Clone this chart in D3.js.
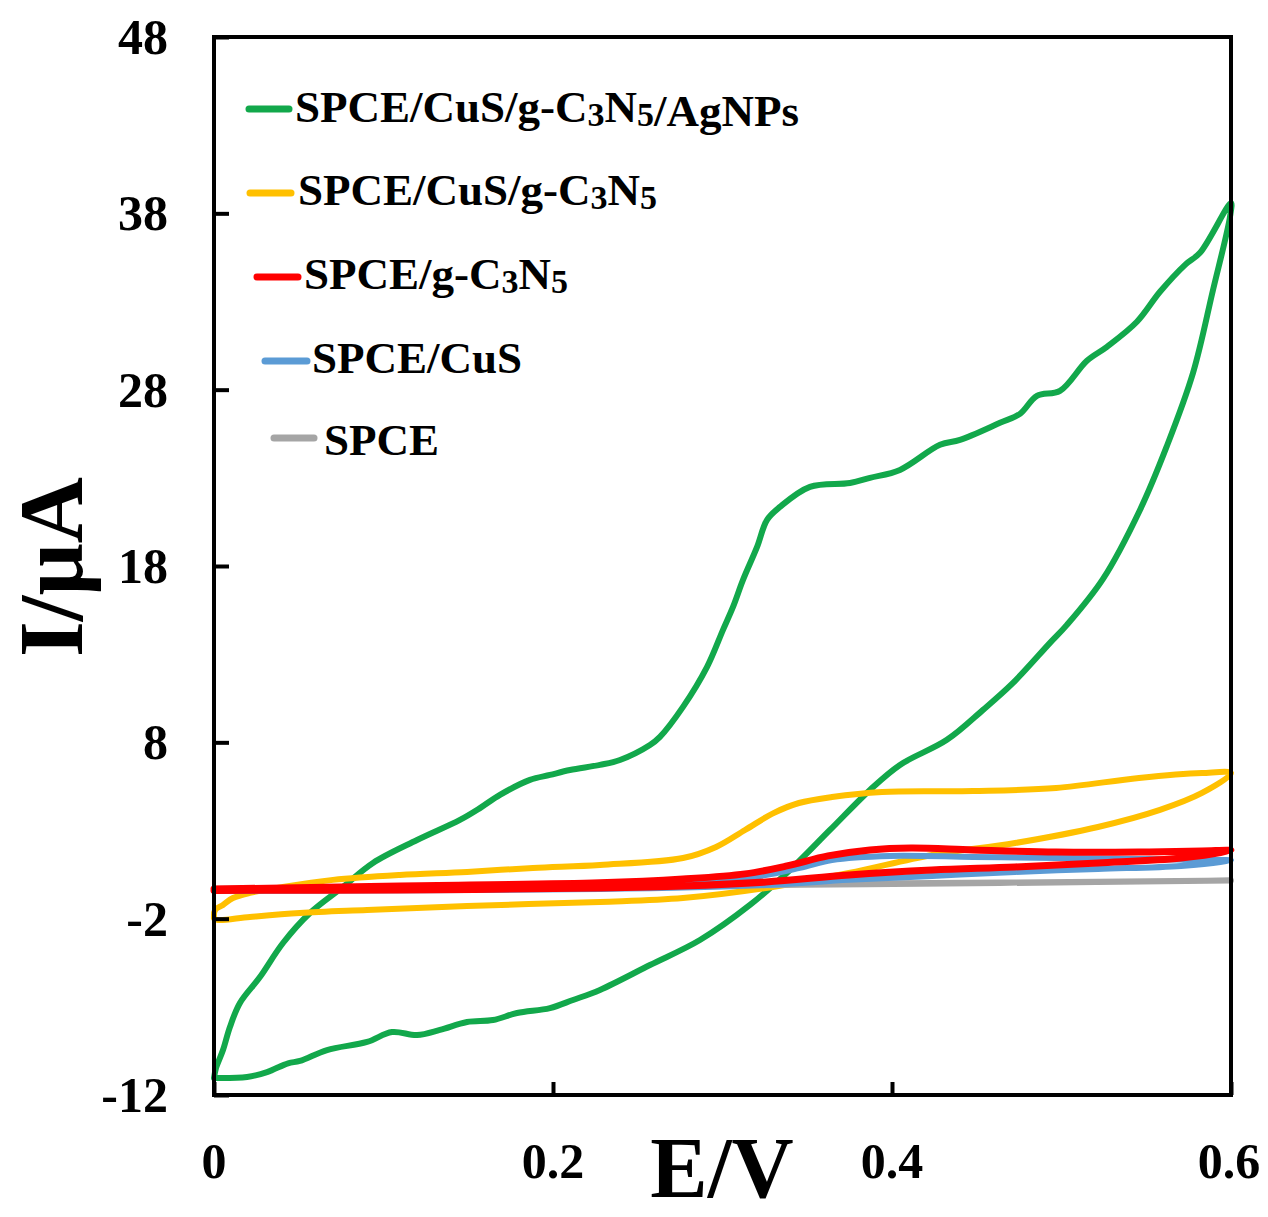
<!DOCTYPE html>
<html>
<head>
<meta charset="utf-8">
<script src="https://cdn.jsdelivr.net/npm/d3@7"></script>
<style>
  html, body { margin: 0; padding: 0; background: #fff; }
  svg { display: block; }
  text { font-family: "Liberation Serif", "Times New Roman", serif; font-weight: bold; fill: #000; }
</style>
</head>
<body>
<svg id="chart" width="1268" height="1217"></svg>
<script>
// ---- Data (E in V, I in µA) ----
const seriesNames = ["SPCE/CuS/g-C3N5/AgNPs", "SPCE/CuS/g-C3N5", "SPCE/g-C3N5", "SPCE/CuS", "SPCE"];
const seriesColors = ["#12A84B", "#FFC000", "#FF0000", "#5B9BD5", "#A5A5A5"];

const xTicks = [0, 0.2, 0.4, 0.6];
const xTickLabels = ["0", "0.2", "0.4", "0.6"];
const yTicks = [-12, -2, 8, 18, 28, 38, 48];
const yTickLabels = ["-12", "-2", "8", "18", "28", "38", "48"];

// SPCE/CuS/g-C3N5/AgNPs (closed CV loop)
const greenE = [0, 0.0195, 0.0313, 0.0437, 0.0507, 0.0667, 0.0903, 0.105, 0.1198, 0.1333, 0.1493, 0.1646, 0.1788, 0.1982, 0.2118, 0.2277, 0.2572, 0.2867, 0.3162, 0.3398, 0.3634, 0.387, 0.4047, 0.4324, 0.4537, 0.4714, 0.4932, 0.5032, 0.5245, 0.5463, 0.5622, 0.5776, 0.5894, 0.5994, 0.6,
  0.5817, 0.5729, 0.5581, 0.5445, 0.5268, 0.515, 0.4991, 0.4855, 0.4755, 0.4637, 0.4401, 0.4283, 0.4047, 0.387, 0.3752, 0.3516, 0.3339, 0.3263, 0.3204, 0.3121, 0.3062, 0.3003, 0.2909, 0.2767, 0.2631, 0.2572, 0.2395, 0.2277, 0.21, 0.1982, 0.1864, 0.1687, 0.1569, 0.1451, 0.1198, 0.0938, 0.0761, 0.0566, 0.0407, 0.0271, 0.0153, 0.0094, 0.0053, 0.0012, 0];
const greenI = [-11.04, -10.98, -10.7, -10.2, -10.07, -9.45, -8.99, -8.43, -8.6, -8.31, -7.86, -7.75, -7.35, -7.07, -6.61, -6.04, -4.63, -3.21, -1.22, 0.76, 3.03, 5.3, 6.72, 8.14, 9.84, 11.37, 13.64, 14.66, 17.27, 21.18, 24.81, 28.95, 33.66, 37.8, 38.59,
  35.76, 35.08, 33.55, 31.85, 30.43, 29.64, 27.93, 27.65, 26.63, 26.12, 25.15, 24.87, 23.45, 23.0, 22.71, 22.49, 21.35, 20.62, 19.08, 17.21, 15.68, 14.38, 12.28, 10.01, 8.31, 7.85, 7.0, 6.72, 6.43, 6.15, 5.87, 5.02, 4.27, 3.6, 2.46, 1.16, -0.2, -1.68, -3.38, -5.31, -6.78, -8.14, -9.45, -10.47, -11.04];

// SPCE/CuS/g-C3N5
const yellowE = [0, 0.0006, 0.0053, 0.0112, 0.0212, 0.0407, 0.0702, 0.1097, 0.1493, 0.1882, 0.2277, 0.2767, 0.2962, 0.3133, 0.3304, 0.3451, 0.3646, 0.3941, 0.4478, 0.4968, 0.5457, 0.5829, 0.6,
  0.5829, 0.5581, 0.5215, 0.4726, 0.4236, 0.3746, 0.3257, 0.2767, 0.2277, 0.1493, 0.0903, 0.0507, 0.0212, 0.0018, 0];
const yellowI = [-1.96, -1.51, -1.22, -0.83, -0.54, -0.2, 0.2, 0.48, 0.65, 0.88, 1.05, 1.44, 2.07, 3.03, 4.0, 4.56, 4.9, 5.19, 5.24, 5.41, 5.98, 6.26, 6.25,
  5.13, 4.17, 3.2, 2.29, 1.61, 0.59, -0.26, -0.83, -1.05, -1.28, -1.51, -1.68, -1.9, -2.07, -1.96];

// SPCE/g-C3N5
const redE = [0, 0.1097, 0.2277, 0.2767, 0.3133, 0.338, 0.3622, 0.387, 0.4112, 0.4478, 0.4968, 0.5457, 0.5829, 0.6,
  0.5705, 0.5215, 0.4726, 0.4236, 0.3746, 0.3257, 0.2767, 0.2277, 0.1097, 0];
const redI = [-0.32, -0.15, 0.03, 0.25, 0.54, 0.99, 1.56, 1.9, 2.01, 1.9, 1.78, 1.78, 1.84, 1.87,
  1.44, 1.16, 0.93, 0.76, 0.48, 0.08, -0.15, -0.26, -0.37, -0.4];

// SPCE/CuS
const blueE = [0, 0.2277, 0.2867, 0.3221, 0.3457, 0.3646, 0.3988, 0.4478, 0.4968, 0.5457, 0.5829, 0.6,
  0.5705, 0.5215, 0.4726, 0.4236, 0.3746, 0.3257, 0.2277, 0];
const blueI = [-0.32, -0.09, 0.14, 0.42, 0.88, 1.33, 1.56, 1.5, 1.44, 1.39, 1.33, 1.3,
  0.99, 0.82, 0.65, 0.42, 0.2, -0.09, -0.32, -0.43];

// SPCE
const grayE = [0, 0.2277, 0.3457, 0.4637, 0.6, 0.4637, 0.3457, 0.2277, 0];
const grayI = [-0.3, -0.17, -0.03, 0.05, 0.16, 0.02, -0.08, -0.22, -0.4];

// ---- Layout ----
const svg = d3.select("#chart");
svg.append("rect").attr("width", 1268).attr("height", 1217).attr("fill", "#fff");

const x = d3.scaleLinear().domain([0, 0.6]).range([214, 1231]);
const y = d3.scaleLinear().domain([-12, 48]).range([1095, 37]);

const line = d3.line()
  .x(d => x(d[0])).y(d => y(d[1]))
  .curve(d3.curveCatmullRom.alpha(0.5));

const seriesData = [
  { E: greenE, I: greenI, c: 0, w: 6 },
  { E: yellowE, I: yellowI, c: 1, w: 6 },
  { E: grayE, I: grayI, c: 4, w: 6 },
  { E: blueE, I: blueI, c: 3, w: 6 },
  { E: redE, I: redI, c: 2, w: 7 }
];

const plot = svg.append("g");
seriesData.forEach(s => {
  const pts = s.E.map((e, i) => [e, s.I[i]]);
  plot.append("path")
    .attr("d", line(pts))
    .attr("fill", "none")
    .attr("stroke", seriesColors[s.c])
    .attr("stroke-width", s.w)
    .attr("stroke-linejoin", "round")
    .attr("stroke-linecap", "round");
});

// ---- Axes ----
const axisG = svg.append("g");
const xAxis = d3.axisBottom(x).tickValues(xTicks).tickSizeInner(-13).tickSizeOuter(0).tickFormat("");
const gx = axisG.append("g").attr("transform", `translate(0,${y(-12)})`).call(xAxis);
gx.select(".domain").remove();
gx.selectAll(".tick line").attr("stroke", "#000").attr("stroke-width", 4);

const yAxis = d3.axisLeft(y).tickValues(yTicks).tickSizeInner(-15).tickSizeOuter(0).tickFormat("");
const gy = axisG.append("g").attr("transform", `translate(${x(0)},0)`).call(yAxis);
gy.select(".domain").remove();
gy.selectAll(".tick line").attr("stroke", "#000").attr("stroke-width", 4);

// frame
axisG.append("rect")
  .attr("x", x(0)).attr("y", y(48))
  .attr("width", x(0.6) - x(0)).attr("height", y(-12) - y(48))
  .attr("fill", "none").attr("stroke", "#000").attr("stroke-width", 4);

// tick labels
xTicks.forEach((v, i) => {
  svg.append("text")
    .attr("x", x(v) + (i === 3 ? -2 : 0)).attr("y", 1178)
    .attr("text-anchor", "middle")
    .attr("font-size", 50)
    .text(xTickLabels[i]);
});
yTicks.forEach((v, i) => {
  svg.append("text")
    .attr("x", 168).attr("y", y(v) + 17)
    .attr("text-anchor", "end")
    .attr("font-size", 50)
    .text(yTickLabels[i]);
});

// axis titles
svg.append("text")
  .attr("transform", "translate(82,567) rotate(-90)")
  .attr("text-anchor", "middle")
  .attr("font-size", 92)
  .text("I/μA");
svg.append("text")
  .attr("x", 722).attr("y", 1197)
  .attr("text-anchor", "middle")
  .attr("font-size", 86)
  .text("E/V");

// ---- Legend ----
const legendPos = [
  { x1: 249, x2: 289, ly: 109, tx: 295, ty: 122 },
  { x1: 250, x2: 291, ly: 193, tx: 298, ty: 205 },
  { x1: 257, x2: 298, ly: 277, tx: 304, ty: 289 },
  { x1: 265, x2: 307, ly: 361, tx: 312, ty: 373 },
  { x1: 274, x2: 314, ly: 438, tx: 324, ty: 455 }
];
seriesNames.forEach((name, i) => {
  const p = legendPos[i];
  svg.append("line")
    .attr("x1", p.x1).attr("x2", p.x2).attr("y1", p.ly).attr("y2", p.ly)
    .attr("stroke", seriesColors[i]).attr("stroke-width", 7).attr("stroke-linecap", "round");
  const t = svg.append("text").attr("x", p.tx).attr("y", p.ty).attr("font-size", 45);
  const parts = name.split("C3N5");
  parts.forEach((part, k) => {
    if (part) t.append("tspan").text(part);
    if (k < parts.length - 1) {
      t.append("tspan").text("C");
      t.append("tspan").attr("font-size", 34).attr("dy", 4).text("3");
      t.append("tspan").attr("dy", -4).text("N");
      t.append("tspan").attr("font-size", 34).attr("dy", 4).text("5");
      t.append("tspan").attr("dy", -4).text("");
    }
  });
});
</script>
</body>
</html>
